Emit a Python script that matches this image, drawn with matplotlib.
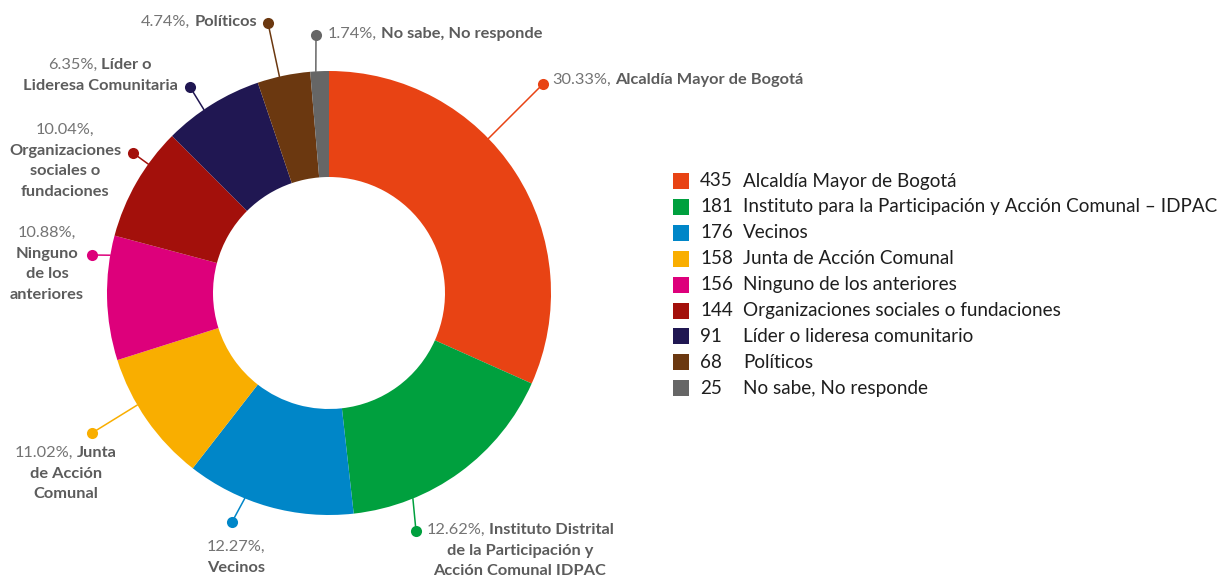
import math
import matplotlib
matplotlib.use("Agg")
import matplotlib.pyplot as plt

# datos de la encuesta
categorias = ["Alcaldía Mayor de Bogotá",
              "Instituto para la Participación y Acción Comunal – IDPAC",
              "Vecinos", "Junta de Acción Comunal", "Ninguno de los anteriores",
              "Organizaciones sociales o fundaciones", "Líder o lideresa comunitario",
              "Políticos", "No sabe, No responde"]
conteos = [435, 181, 176, 158, 156, 144, 91, 68, 25]
porcentajes = ["30.33%", "12.62%", "12.27%", "11.02%", "10.88%", "10.04%", "6.35%", "4.74%", "1.74%"]
# tamaño de cada porción tal como se ve en el dibujo original (no proporcional al conteo)
porcion_dibujada = [31.7, 16.55, 12.3, 9.6, 9.05, 8.35, 7.3, 3.85, 1.35]
colores = ["#E84314", "#00A03E", "#0086C8", "#F9AE00", "#DD007B",
           "#A3100B", "#201752", "#6B3810", "#666666"]

# etiquetas alrededor de la dona: nombre en negrita, por líneas
nombres = [["Alcaldía Mayor de Bogotá"],
           ["Instituto Distrital", "de la Participación y", "Acción Comunal IDPAC"],
           ["", "Vecinos"],
           ["Junta", "de Acción", "Comunal"],
           ["", "Ninguno", "de los", "anteriores"],
           ["", "Organizaciones", "sociales o", "fundaciones"],
           ["Líder o", "Lideresa Comunitaria"],
           ["Políticos"],
           ["No sabe, No responde"]]

W, H = 1230, 579
cx, cy, r_out, r_in = 329, 293, 222, 116
FONT = "Lato"
GRIS = "#5c5c5c"

fig = plt.figure(figsize=(W / 100, H / 100), dpi=100)
ax = fig.add_axes([0, 0, 1, 1])

# eje en pixeles con y invertido: startangle=-90 y counterclock=True se ven
# como inicio arriba y giro horario
ax.pie(porcion_dibujada, colors=colores, startangle=-90, counterclock=True,
       center=(cx, cy), radius=r_out,
       wedgeprops=dict(width=r_out - r_in, linewidth=0))
ax.set_xlim(0, W)
ax.set_ylim(H, 0)
ax.set_aspect("auto")
ax.axis("off")

renderer = fig.canvas.get_renderer()


def linea_mixta(x, y, partes, ha="center", size=11.8):
    objs = []
    for txt, peso, color in partes:
        t = ax.text(0, y, txt, fontsize=size, fontweight=peso, color=color,
                    family=[FONT, "DejaVu Sans"], va="center", ha="left")
        objs.append(t)
    anchos = [t.get_window_extent(renderer).width for t in objs]
    gap = 4
    total = sum(anchos) + gap * (len(objs) - 1)
    if ha == "center":
        x0 = x - total / 2
    elif ha == "right":
        x0 = x - total
    else:
        x0 = x
    for t, w in zip(objs, anchos):
        t.set_x(x0)
        x0 += w + gap


# posicion de cada etiqueta: (punto, angulo de salida en el anillo, x texto, y primera linea, alineacion)
disposicion = [((543, 84), 44.1, 552, 80, "left"),
               ((416, 531), -67.8, 520, 530, "center"),
               ((232, 522), -112.3, 236, 547, "center"),
               ((92, 433), -149.7, 66, 453, "center"),
               ((92, 255), 170.2, 47, 233, "center"),
               ((133, 153), 144.5, 65, 130, "center"),
               ((190, 87), 124.3, 100, 65, "center"),
               ((268, 23), 102.9, 257, 22, "right"),
               ((316, 35), 93.4, 328, 34, "left")]

for i, ((px, py), ang, tx, ty, ha) in enumerate(disposicion):
    a = math.radians(ang)
    sx, sy = cx + r_out * math.cos(a), cy - r_out * math.sin(a)
    ax.plot([sx, px], [sy, py], color=colores[i], lw=1.1, solid_capstyle="round")
    ax.plot(px, py, "o", ms=8, color=colores[i], mec="none")
    lineas = nombres[i]
    for k, nom in enumerate(lineas):
        yy = ty + k * 20.7
        if k == 0:
            if nom == "":
                partes = [(porcentajes[i] + ",", "normal", "#747474")]
            else:
                partes = [(porcentajes[i] + ",", "normal", "#747474"), (nom, "bold", GRIS)]
        else:
            partes = [(nom, "bold", GRIS)]
        linea_mixta(tx, yy, partes, ha=ha)

# leyenda
y0, paso = 181, 25.9
for i, (cat, n) in enumerate(zip(categorias, conteos)):
    yy = y0 + i * paso
    ax.add_patch(plt.Rectangle((673, yy - 8), 16, 16, color=colores[i], lw=0))
    ax.text(700, yy, str(n), fontsize=13.6, color="#1e1e1e", family=[FONT, "DejaVu Sans"],
            va="center", ha="left")
    ax.text(743, yy, cat, fontsize=13.6, color="#1e1e1e", family=[FONT, "DejaVu Sans"],
            va="center", ha="left")

fig.savefig("out.png", dpi=100)
